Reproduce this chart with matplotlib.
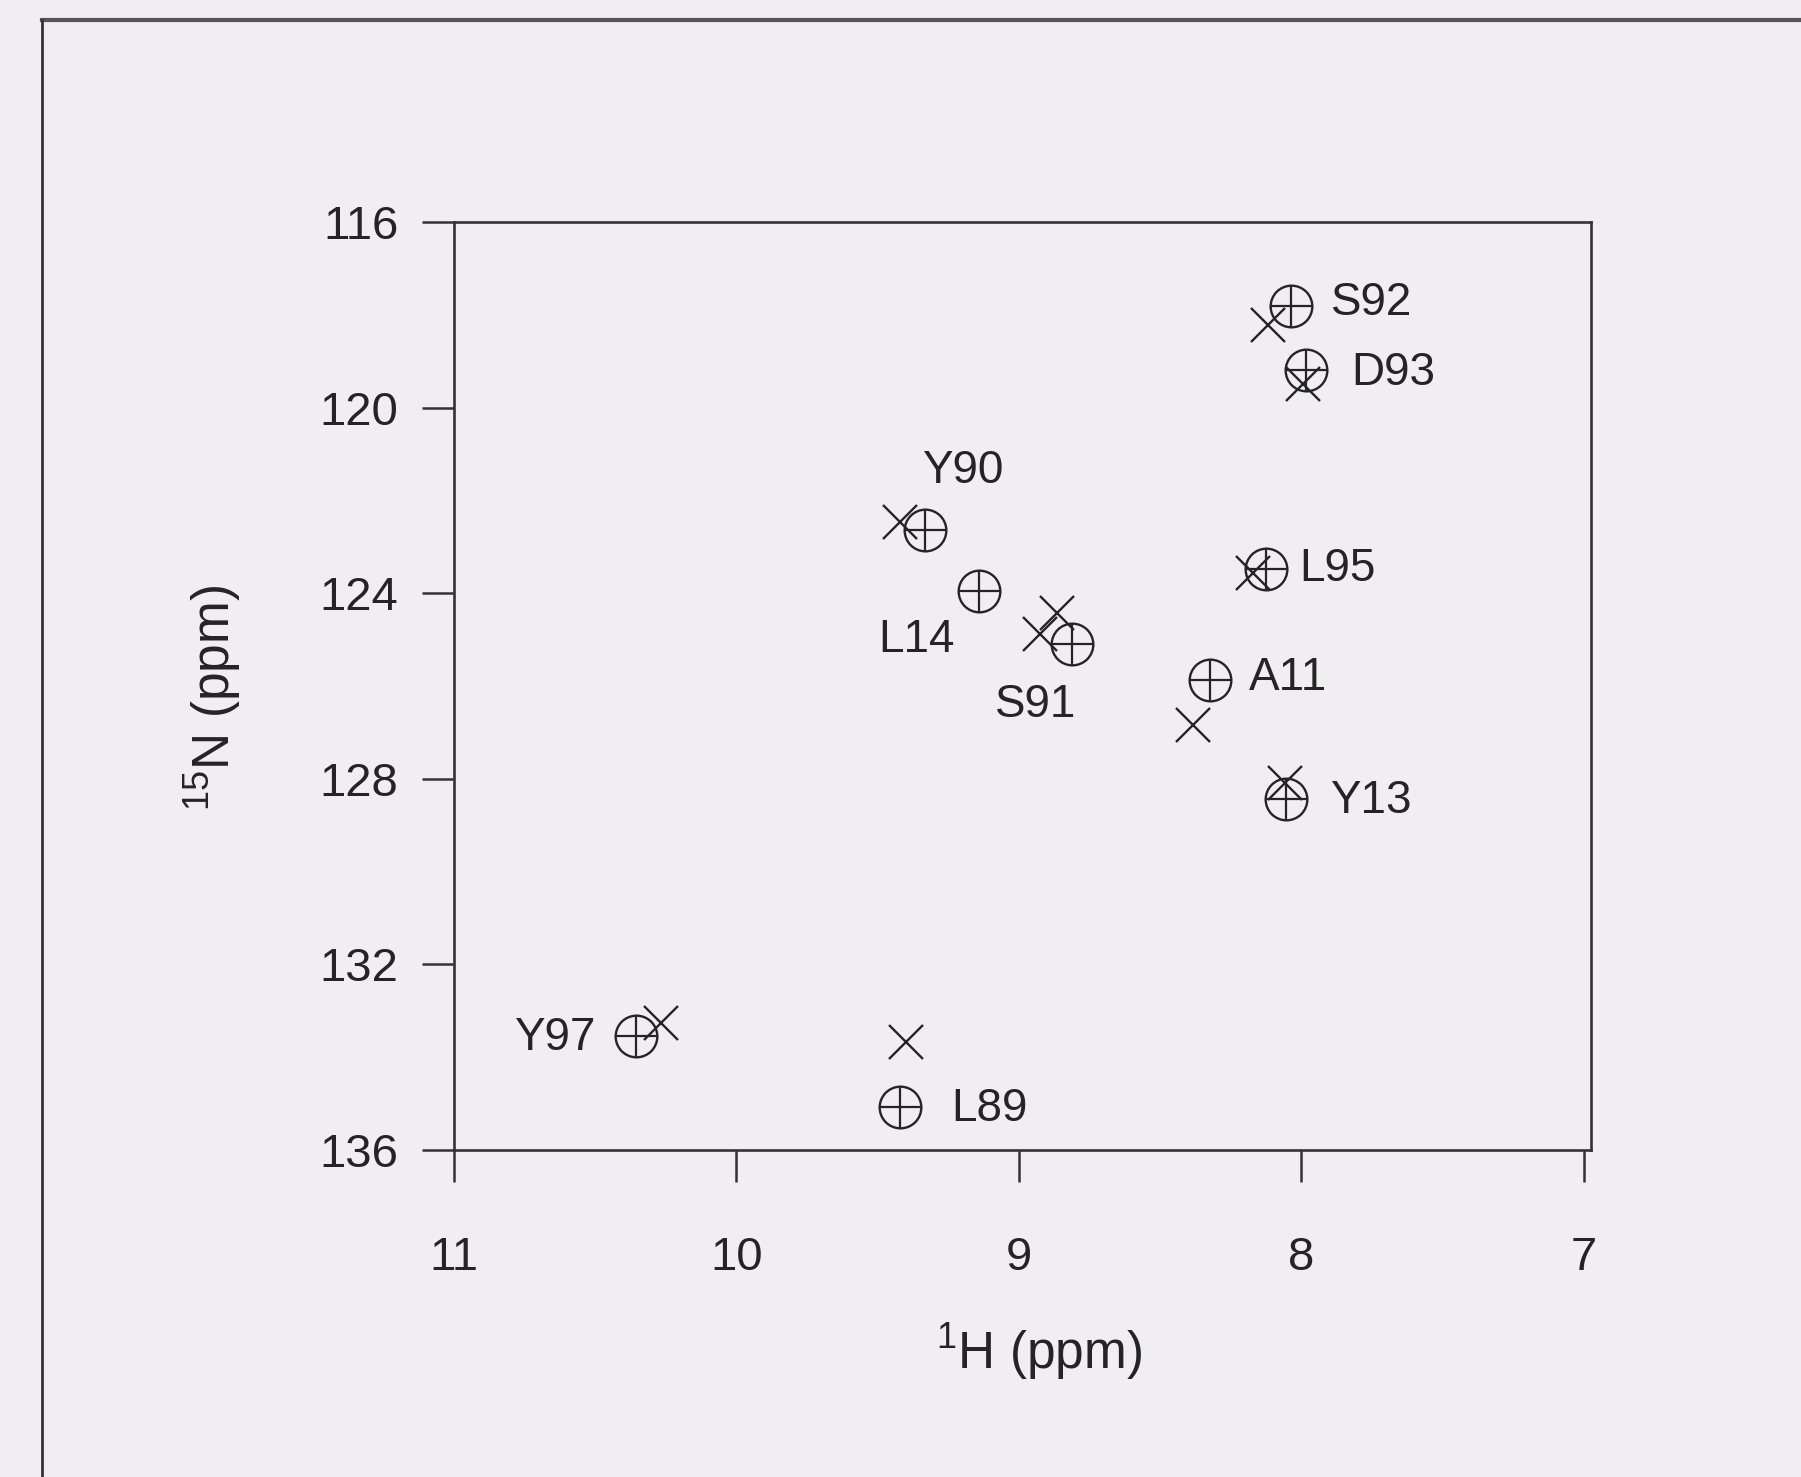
import matplotlib
matplotlib.use("Agg")
import matplotlib.pyplot as plt
from matplotlib import font_manager as fm
from matplotlib.lines import Line2D

# ---------------- data ----------------
residues = ['S92', 'D93', 'Y90', 'L14', 'S91', 'L95', 'A11', 'Y13', 'Y97', 'L89']
h_circle = [8.038, 7.985, 9.332, 9.142, 8.813, 8.127, 8.325, 8.056, 10.357, 9.421]
n_circle = [117.80, 119.19, 122.63, 123.96, 125.10, 123.48, 125.86, 128.44, 133.55, 135.08]

h_cross = [8.118, 7.996, 9.421, 8.864, 8.925, 8.172, 8.384, 8.058, 10.268, 9.401]
n_cross = [118.21, 119.50, 122.47, 124.43, 124.87, 123.56, 126.85, 128.09, 133.27, 133.67]

x_ticks = [11, 10, 9, 8, 7]
y_ticks = [116, 120, 124, 128, 132, 136]
x_label = r'$\mathregular{^{1}}$H (ppm)'
y_label = r'$\mathregular{^{15}}$N (ppm)'

# label placement (offset in points from circle, horizontal alignment)
label_offsets = {
    'S92': (29, 2, 'left'),
    'D93': (33, -2, 'left'),
    'Y90': (27, 42, 'center'),
    'L14': (-17, -35, 'right'),
    'S91': (-26, -44, 'center'),
    'L95': (24, 0, 'left'),
    'A11': (28, 1, 'left'),
    'Y13': (32, -1.5, 'left'),
    'Y97': (-29, -1.5, 'right'),
    'L89': (37, -1.5, 'left'),
}

# ---------------- fonts ----------------
def has_font(name):
    try:
        fm.findfont(fm.FontProperties(family=name), fallback_to_default=False)
        return True
    except Exception:
        return False

base_font = 'Liberation Sans' if has_font('Liberation Sans') else 'DejaVu Sans'
plt.rcParams['font.family'] = [base_font, 'DejaVu Sans']

bg = '#f0eef1'
ink = '#242424'

W, H = 1801, 1477
fig = plt.figure(figsize=(W / 100, H / 100), dpi=100, facecolor=bg)

left, right, top, bottom = 454, 1591, 222, 1150
ax = fig.add_axes([left / W, 1 - bottom / H, (right - left) / W, (bottom - top) / H])
ax.set_facecolor(bg)

ax.plot(h_circle, n_circle, linestyle='none', marker='o', markersize=30,
        markerfacecolor='none', markeredgecolor=ink, markeredgewidth=1.7, zorder=3)
ax.plot(h_circle, n_circle, linestyle='none', marker='+', markersize=30,
        markeredgecolor=ink, markeredgewidth=1.6, zorder=3)
ax.plot(h_cross, n_cross, linestyle='none', marker='x', markersize=24,
        markeredgecolor=ink, markeredgewidth=1.7, zorder=4)

for name, hx, ny in zip(residues, h_circle, n_circle):
    dx, dy, ha = label_offsets[name]
    ax.annotate(name, (hx, ny), xytext=(dx, dy), textcoords='offset points',
                ha=ha, va='center', fontsize=33, color=ink)

ax.set_xlim(11, 6.975)
ax.set_ylim(136, 116)
ax.set_xticks(x_ticks)
ax.set_xticklabels([str(t) for t in x_ticks])
ax.set_yticks(y_ticks)
ax.set_yticklabels([str(t) for t in y_ticks])

for s in ax.spines.values():
    s.set_linewidth(1.9)
    s.set_color('#333333')

ax.tick_params(axis='both', direction='out', length=23, width=1.8, color='#333333',
               labelsize=34, labelcolor=ink)
ax.tick_params(axis='x', pad=39)
ax.tick_params(axis='y', pad=17)

ax.set_xlabel(x_label, fontsize=37, color=ink)
ax.xaxis.set_label_coords(0.5145, -0.236)
ax.xaxis.label.set_verticalalignment('baseline')
ax.set_ylabel(y_label, fontsize=37, color=ink)
ax.yaxis.set_label_coords(-0.197, 0.487)
ax.yaxis.label.set_verticalalignment('baseline')

# outer page frame (top and left edges)
fig.add_artist(Line2D([42 / W, 1], [1 - 20 / H, 1 - 20 / H], transform=fig.transFigure,
                      lw=3, color='#555555'))
fig.add_artist(Line2D([42 / W, 42 / W], [0, 1 - 20 / H], transform=fig.transFigure,
                      lw=2, color='#333333'))

fig.savefig('out.png', dpi=100, facecolor=bg)
